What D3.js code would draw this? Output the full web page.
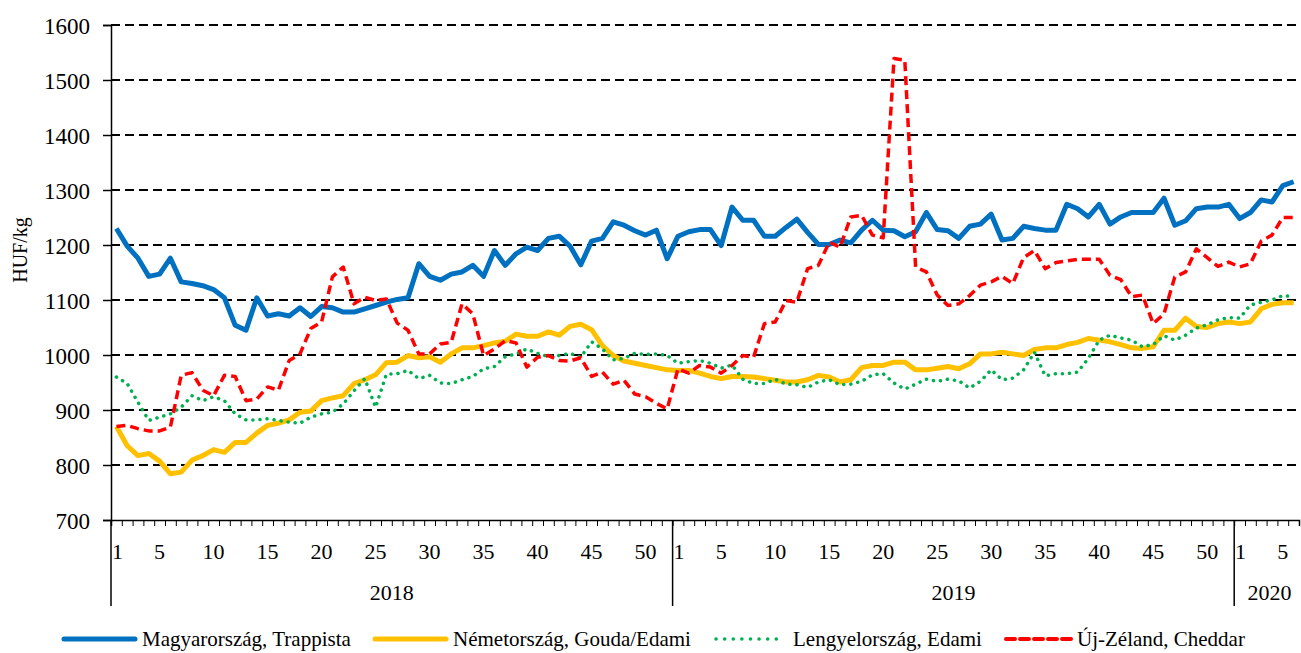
<!DOCTYPE html>
<html>
<head>
<meta charset="utf-8">
<script src="https://cdn.jsdelivr.net/npm/d3@7"></script>
<style>
body{margin:0;background:#fff;}
text{font-family:"Liberation Serif","Times New Roman",serif;fill:#000;}
</style>
</head>
<body>
<div class="canvas"></div>
<script>
const yearNames=["2018","2019","2020"];
const yearWeeks=[52,52,6];
const shownWeeks=[1,5,10,15,20,25,30,35,40,45,50];
const yTicks=[700,800,900,1000,1100,1200,1300,1400,1500,1600];

const trappista=[
1230,1198,1176,1143,1147,1176,1133,1130,1126,1119,1104,1054,1045,1104,1071,1075,1071,1086,1070,1088,
1086,1078,1078,1084,1090,1096,1101,1104,1166,1143,1136,1147,1151,1163,1143,1190,1163,1184,1196,1190,
1212,1216,1198,1164,1207,1212,1242,1236,1226,1218,1227,1175,
1216,1224,1228,1228,1199,1269,1245,1245,1216,1216,1232,1247,1223,1201,1201,1209,1204,1227,1245,1227,
1226,1215,1224,1259,1228,1226,1212,1234,1238,1256,1209,1212,1234,1230,1227,1227,1274,1266,1251,1274,
1238,1251,1259,1259,1259,1285,1236,1244,1266,1269,1269,1274,
1248,1259,1282,1278,1308,1315];
const gouda=[
870,835,817,821,807,784,787,809,817,828,823,841,841,858,872,876,882,896,898,917,
922,926,948,955,964,986,987,999,995,997,987,1002,1013,1013,1017,1022,1025,1038,1034,1034,
1042,1036,1052,1056,1046,1017,999,989,985,981,977,973,
972,972,967,961,957,961,961,960,957,954,951,951,955,963,960,951,955,977,981,981,
987,987,973,973,976,979,975,984,1002,1002,1005,1002,999,1010,1013,1013,1019,1023,1030,1027,
1024,1019,1013,1012,1015,1045,1045,1067,1052,1050,1057,1060,
1057,1060,1084,1092,1095,1095];
const edami=[
960,948,914,881,887,893,905,926,917,924,917,893,882,882,884,881,878,876,887,893,
896,911,935,957,905,965,966,972,957,963,949,948,955,961,975,979,997,1002,1011,1003,
997,999,1003,996,1024,1011,991,994,1003,1001,1002,999,
985,988,990,985,976,982,956,948,948,956,947,946,941,951,955,946,947,952,964,966,
949,938,947,956,952,956,953,940,952,973,955,958,973,1005,962,966,966,969,994,1027,
1036,1031,1027,1015,1019,1035,1027,1036,1049,1055,1064,1068,
1067,1091,1096,1100,1108,1106];
const cheddar=[
870,872,866,862,862,869,963,968,936,926,963,961,917,920,942,936,990,1002,1048,1060,
1142,1160,1093,1105,1099,1102,1058,1045,1002,1002,1020,1023,1093,1075,999,1011,1026,1022,978,996,
999,990,989,995,961,969,947,954,929,924,912,902,
975,967,981,978,967,981,999,996,1057,1060,1099,1096,1157,1163,1205,1196,1251,1254,1218,1213,
1539,1536,1160,1151,1109,1090,1093,1108,1127,1133,1143,1130,1177,1190,1157,1168,1171,1174,1174,1174,
1145,1137,1106,1109,1057,1075,1142,1151,1193,1177,1161,1169,
1160,1166,1207,1218,1250,1250];

const seriesNames=["Magyarország, Trappista","Németország, Gouda/Edami","Lengyelország, Edami","Új-Zéland, Cheddar"];
const seriesColors=["#0070C0","#FFC000","#00B050","#FF0000"];

const W=1301,H=653,pLeft=111,pRight=1299,pTop=25,pBottom=520;

// category list: one entry per week
const cats=[];
yearNames.forEach((yr,i)=>{
  for(let w=1;w<=yearWeeks[i];w++) cats.push({key:yr+"-"+w,year:yr,week:w});
});

const x=d3.scaleBand().domain(cats.map(c=>c.key)).range([pLeft,pRight]);
const xb=d3.scaleLinear().domain([0,cats.length]).range([pLeft,pRight]);
const y=d3.scaleLinear().domain([700,1600]).range([pBottom,pTop]);

const svg=d3.select(".canvas").append("svg")
  .attr("width",W).attr("height",H);

// gridlines
svg.append("g")
  .selectAll("line")
  .data(yTicks.slice(1))
  .enter().append("line")
  .attr("x1",pLeft).attr("x2",pRight)
  .attr("y1",d=>y(d)).attr("y2",d=>y(d))
  .attr("stroke","#000").attr("stroke-width",2)
  .attr("stroke-dasharray","9,5");

// y axis
const gy=svg.append("g")
  .attr("transform",`translate(${pLeft},0)`)
  .call(d3.axisLeft(y).tickValues(yTicks).tickFormat(d3.format("d")).tickSize(8).tickPadding(13));
gy.select(".domain").attr("stroke","#000").attr("stroke-width",1.5);
gy.selectAll(".tick line").attr("stroke","#000").attr("stroke-width",1.5);
gy.selectAll(".tick text").style("font-size","23px").attr("dy","0.36em");

svg.append("text")
  .attr("transform","translate(27,250) rotate(-90)")
  .attr("text-anchor","middle")
  .style("font-size","20px")
  .text("HUF/kg");

// x axis with ticks at week boundaries
const gx=svg.append("g")
  .attr("transform",`translate(0,${pBottom})`)
  .call(d3.axisBottom(xb).tickValues(d3.range(0,cats.length+1)).tickSize(6).tickFormat(""));
gx.select(".domain").attr("stroke","#000").attr("stroke-width",1.5);
gx.selectAll(".tick line").attr("stroke","#000").attr("stroke-width",1);

// year separators
let start=0;
const bounds=[];
yearWeeks.forEach(n=>{bounds.push([start,start+n]);start+=n;});
svg.append("g").selectAll("line")
  .data(bounds.map(b=>b[0]))
  .enter().append("line")
  .attr("x1",d=>xb(d)).attr("x2",d=>xb(d))
  .attr("y1",pBottom).attr("y2",606)
  .attr("stroke","#000").attr("stroke-width",1.5);

svg.append("g").selectAll("text")
  .data(cats.filter(c=>shownWeeks.includes(c.week)))
  .enter().append("text")
  .attr("x",d=>x(d.key)+x.bandwidth()/2+(d.week===1?1:0))
  .attr("y",559)
  .attr("text-anchor","middle")
  .style("font-size","22px")
  .text(d=>d.week);

svg.append("g").selectAll("text")
  .data(bounds)
  .enter().append("text")
  .attr("x",d=>(xb(d[0])+xb(d[1]))/2+(d[1]-d[0]<10?3:0))
  .attr("y",600)
  .attr("text-anchor","middle")
  .style("font-size","22px")
  .text((d,i)=>yearNames[i]);

// series lines
const allSeries=[trappista,gouda,edami,cheddar];
const widths=[5,5,3.5,3.5];
const dashes=[null,null,"0.1,7","9,5"];
const line=d3.line()
  .x((d,i)=>x(cats[i].key)+x.bandwidth()/2)
  .y(d=>y(d));

allSeries.forEach((s,i)=>{
  svg.append("path")
    .datum(s)
    .attr("d",line)
    .attr("fill","none")
    .attr("stroke",seriesColors[i])
    .attr("stroke-width",widths[i])
    .attr("stroke-linejoin","round")
    .attr("stroke-linecap",i===2?"round":"butt")
    .attr("stroke-dasharray",dashes[i]);
});

// legend
const legX=[64,375,716,1006];
const legLen=[71,71,61,67];
const legY=639;
const leg=svg.append("g");
seriesNames.forEach((n,i)=>{
  leg.append("line")
    .attr("x1",legX[i]).attr("x2",legX[i]+legLen[i])
    .attr("y1",legY).attr("y2",legY)
    .attr("stroke",seriesColors[i])
    .attr("stroke-width",i<2?5:(i===2?3.5:4))
    .attr("stroke-linecap","round")
    .attr("stroke-dasharray",i===2?"0.1,8.5":(i===3?"9,5":null));
  leg.append("text")
    .attr("x",legX[i]+legLen[i]+(i===2?16:(i===3?4:7)))
    .attr("y",legY+7)
    .style("font-size","21px")
    .text(n);
});
</script>
</body>
</html>
